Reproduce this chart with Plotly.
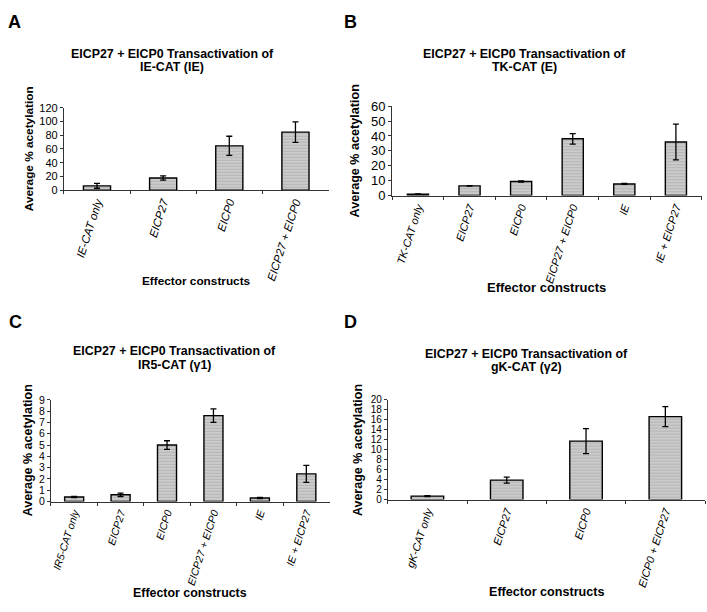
import plotly.graph_objects as go

W, H = 707, 612
FONT = "Liberation Sans, Arial, sans-serif"

# ---------------- data ----------------
cats_a = ["IE-CAT only", "EICP27", "EICP0", "EICP27 + EICP0"]
vals_a = [6.2, 17.6, 64.5, 84.5]
err_a = [3.5, 3.0, 14.0, 15.0]

cats_b = ["TK-CAT only", "EICP27", "EICP0", "EICP27 + EICP0", "IE", "IE + EICP27"]
vals_b = [1.0, 6.5, 9.4, 38.1, 7.8, 36.0]
err_b = [0.2, 0.15, 0.4, 3.5, 0.3, 12.0]

cats_c = ["IR5-CAT only", "EICP27", "EICP0", "EICP27 + EICP0", "IE", "IE + EICP27"]
vals_c = [0.40, 0.60, 5.0, 7.6, 0.32, 2.45]
err_c = [0.05, 0.15, 0.38, 0.6, 0.05, 0.75]

cats_d = ["gK-CAT only", "EICP27", "EICP0", "EICP0 + EICP27"]
vals_d = [0.7, 3.9, 11.7, 16.6]
err_d = [0.1, 0.6, 2.5, 2.0]

titles_1 = ["EICP27 + EICP0 Transactivation of"] * 4
titles_2 = ["IE-CAT (IE)", "TK-CAT (E)", "IR5-CAT (γ1)", "gK-CAT (γ2)"]
letters = ["A", "B", "C", "D"]
ylabel = "Average % acetylation"
xlabel = "Effector constructs"

# ---------------- layout geometry (pixels) ----------------
panels = [
    dict(cats=cats_a, vals=vals_a, err=err_a, x=(63, 328), y=(103.3, 187.7), yr=120, dt=20,
         xf=11.4, yf=11, t1=47.7, t2=61.0, tx=171.7, ytx=28.3, ytf=11.8, xty=281.0, xtf=11.8,
         lx=14, ly=15),
    dict(cats=cats_b, vals=vals_b, err=err_b, x=(391.7, 701.7), y=(101.7, 193.3), yr=60, dt=10,
         xf=11, yf=13, t1=47.7, t2=61.0, tx=524.7, ytx=354.0, ytf=12.6, xty=287.3, xtf=13,
         lx=350, ly=15),
    dict(cats=cats_c, vals=vals_c, err=err_c, x=(50, 329), y=(402.7, 507.0), yr=9, dt=1,
         xf=10.5, yf=10.5, t1=352.7, t2=367.0, tx=173.3, ytx=26.7, ytf=12.5, xty=601.0, xtf=12.4,
         lx=15, ly=323),
    dict(cats=cats_d, vals=vals_d, err=err_d, x=(387.3, 705), y=(402.5, 505.0), yr=20, dt=2,
         xf=11.0, yf=10, t1=356.0, t2=369.3, tx=526.3, ytx=357.0, ytf=12.5, xty=599.3, xtf=12.6,
         lx=350, ly=323),
]

fig = go.Figure()
annotations = []
layout = {}

for i, p in enumerate(panels):
    n = i + 1
    xa = "x" if n == 1 else f"x{n}"
    ya = "y" if n == 1 else f"y{n}"
    fig.add_trace(go.Bar(
        x=p["cats"], y=p["vals"], xaxis=xa, yaxis=ya, width=0.41,
        marker=dict(color="#c6c6c6", line=dict(color="black", width=1.4),
                    pattern=dict(shape="-", fgcolor="#9a9a9a", bgcolor="#cbcbcb", size=3, solidity=0.3)),
        error_y=dict(type="data", array=p["err"], visible=True, color="black", thickness=1.3, width=3),
        showlegend=False,
    ))
    xkey = "xaxis" if n == 1 else f"xaxis{n}"
    ykey = "yaxis" if n == 1 else f"yaxis{n}"
    layout[xkey] = dict(
        domain=[p["x"][0] / W, p["x"][1] / W], anchor=ya, type="category",
        range=[-0.5, len(p["cats"]) - 0.5], showline=True, linecolor="#333", linewidth=1,
        ticks="outside", tickson="boundaries", ticklen=3, tickcolor="#333",
        tickangle=-72, tickfont=dict(family=FONT, size=p["xf"], color="black", style="italic"),
        showgrid=False, fixedrange=True,
    )
    layout[ykey] = dict(
        domain=[1 - p["y"][1] / H, 1 - p["y"][0] / H], anchor=xa,
        range=[0, p["yr"]], dtick=p["dt"], showline=True, linecolor="#333", linewidth=1,
        ticks="outside", ticklen=3, tickcolor="#333", showgrid=False, zeroline=False,
        tickfont=dict(family=FONT, size=p["yf"], color="black"), fixedrange=True,
    )
    annotations.append(dict(text=f"<b>{titles_1[i]}</b>", x=p["tx"] / W, y=1 - p["t1"] / H,
                            xref="paper", yref="paper", showarrow=False, xanchor="center", yanchor="middle",
                            font=dict(family=FONT, size=12.4, color="black")))
    annotations.append(dict(text=f"<b>{titles_2[i]}</b>", x=p["tx"] / W, y=1 - p["t2"] / H,
                            xref="paper", yref="paper", showarrow=False, xanchor="center", yanchor="middle",
                            font=dict(family=FONT, size=12.4, color="black")))
    annotations.append(dict(text=f"<b>{ylabel}</b>", x=p["ytx"] / W, y=1 - (p["y"][0] + p["y"][1]) / 2 / H,
                            xref="paper", yref="paper", showarrow=False, xanchor="center", yanchor="middle",
                            textangle=-90, font=dict(family=FONT, size=p["ytf"], color="black")))
    annotations.append(dict(text=f"<b>{xlabel}</b>", x=(p["x"][0] + p["x"][1]) / 2 / W, y=1 - p["xty"] / H,
                            xref="paper", yref="paper", showarrow=False, xanchor="center", yanchor="middle",
                            font=dict(family=FONT, size=p["xtf"], color="black")))
    annotations.append(dict(text=f"<b>{letters[i]}</b>", x=p["lx"] / W, y=1 - p["ly"] / H,
                            xref="paper", yref="paper", showarrow=False, xanchor="center", yanchor="middle",
                            font=dict(family=FONT, size=18, color="black")))

fig.update_layout(
    width=W, height=H, margin=dict(l=0, r=0, t=0, b=0),
    paper_bgcolor="white", plot_bgcolor="white", hovermode=False,
    annotations=annotations, **layout,
)

fig.write_html("out.html", config={"displayModeBar": False, "staticPlot": True},
               post_script="document.body.style.margin='0px';document.body.style.overflow='hidden';")
